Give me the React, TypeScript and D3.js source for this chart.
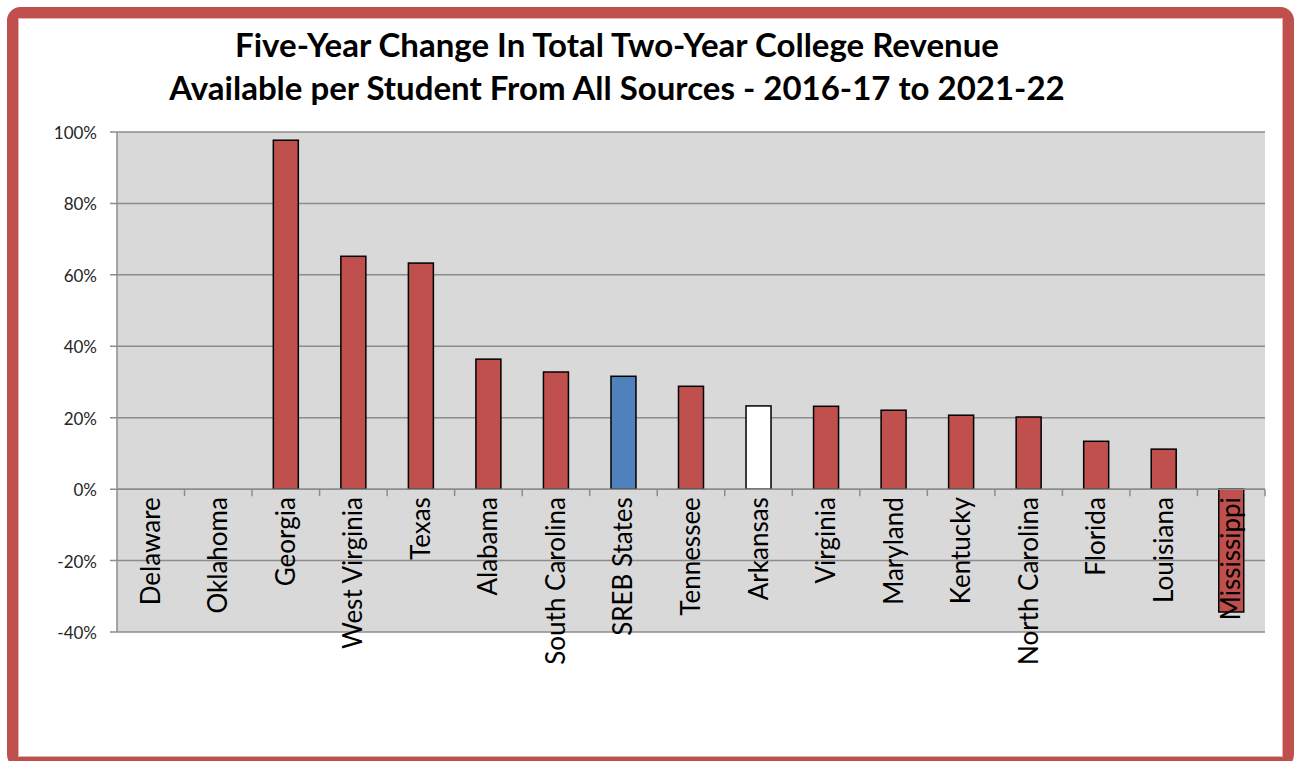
import React from "react";
import * as d3 from "d3";

const categories = ["Delaware","Oklahoma","Georgia","West Virginia","Texas","Alabama","South Carolina","SREB States","Tennessee","Arkansas","Virginia","Maryland","Kentucky","North Carolina","Florida","Louisiana","Mississippi"];
const values = [0,0,97.7,65.2,63.3,36.4,32.8,31.6,28.8,23.3,23.2,22.1,20.7,20.2,13.4,11.2,-34.4];
const barColors = ["#c0504d","#c0504d","#c0504d","#c0504d","#c0504d","#c0504d","#c0504d","#4f81bd","#c0504d","#ffffff","#c0504d","#c0504d","#c0504d","#c0504d","#c0504d","#c0504d","#c0504d"];
const yTicks = [-40,-20,0,20,40,60,80,100];
const titleLines = ["Five-Year Change In Total Two-Year College Revenue","Available per Student From All Sources - 2016-17 to 2021-22"];

const W = 1294, H = 761;
const plot = { left: 117, right: 1265, top: 132, bottom: 632 };
const FONT = "Lato, 'Open Sans', sans-serif";

export default function App() {
  const x = d3.scaleBand<string>().domain(categories).range([plot.left, plot.right]).paddingInner(0).paddingOuter(0);
  const y = d3.scaleLinear().domain([-40, 100]).range([plot.bottom, plot.top]);
  const bw = x.bandwidth() * 0.37;
  const y0 = y(0);
  return (
    <svg width={W} height={H} style={{ position: "absolute", left: 0, top: 0, background: "#fff" }}>
      <rect x={0} y={0} width={W} height={H} fill="#fff" />
      {/* frame */}
      <rect x={12.5} y={12.5} width={1276} height={750} rx={8} fill="none" stroke="#c0504d" strokeWidth={11} />
      <rect x={18.5} y={18.5} width={1264} height={738} fill="none" stroke="#e6b0ae" strokeWidth={1} />
      {/* title */}
      {titleLines.map((t, i) => (
        <text key={i} x={617} y={57 + i * 43} textAnchor="middle" fontFamily={FONT} fontWeight="bold" fontSize={33} fill="#000">{t}</text>
      ))}
      {/* plot background */}
      <rect x={plot.left} y={plot.top} width={plot.right - plot.left} height={plot.bottom - plot.top} fill="#d9d9d9" />
      {/* gridlines & ticks */}
      {yTicks.map((t) => (
        <g key={t}>
          <line x1={plot.left - 7} x2={plot.right} y1={y(t)} y2={y(t)} stroke="#8c8c8c" strokeWidth={1.5} />
          <text x={97} y={y(t) + 1} dy="0.35em" textAnchor="end" fontFamily={FONT} fontSize={17} fill="#262626">{t}%</text>
        </g>
      ))}
      <line x1={plot.left} x2={plot.left} y1={plot.top} y2={plot.bottom} stroke="#8c8c8c" strokeWidth={1.5} />
      {/* bars */}
      {categories.map((c, i) => {
        const v = values[i];
        if (v === 0) return null;
        const cx = (x(c) as number) + x.bandwidth() / 2;
        return (
          <rect key={c} x={cx - bw / 2} y={Math.min(y(v), y0)} width={bw} height={Math.abs(y(v) - y0)} fill={barColors[i]} stroke="#000" strokeWidth={1.5} />
        );
      })}
      {/* x axis */}
      <line x1={plot.left} x2={plot.right} y1={y0} y2={y0} stroke="#8c8c8c" strokeWidth={1.5} />
      {categories.map((c, i) => (
        <line key={c} x1={(x(c) as number) + x.bandwidth()} x2={(x(c) as number) + x.bandwidth()} y1={y0} y2={y0 + 7} stroke="#8c8c8c" strokeWidth={1.5} />
      ))}
      {categories.map((c) => {
        const cx = (x(c) as number) + x.bandwidth() / 2;
        return (
          <text key={c} transform={`translate(${cx + 9},${y0 + 8}) rotate(-90)`} textAnchor="end" fontFamily={FONT} fontSize={26} fill="#000">{c}</text>
        );
      })}
    </svg>
  );
}
